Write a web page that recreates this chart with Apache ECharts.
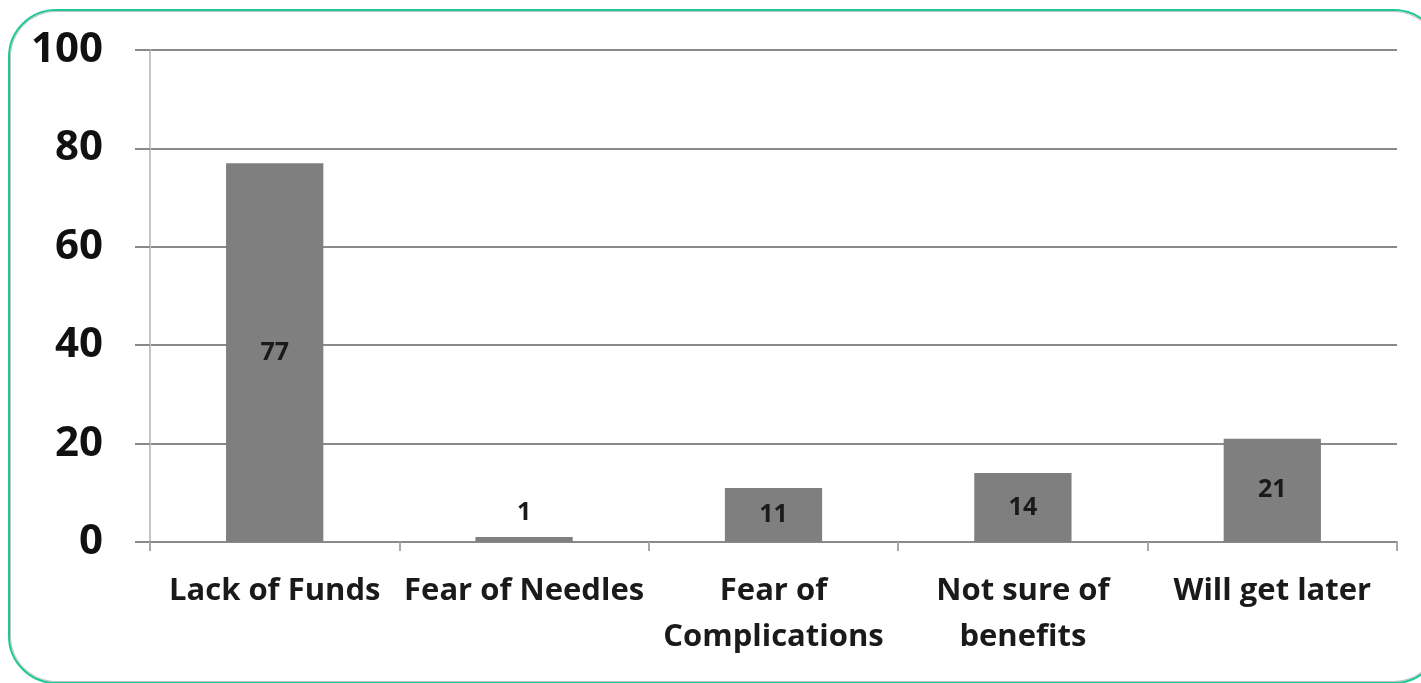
<!DOCTYPE html>
<html>
<head>
<meta charset="utf-8">
<style>
  html, body { margin: 0; padding: 0; background: #ffffff; overflow: hidden; }
  #chart { position: absolute; left: 0; top: 0; width: 1421px; height: 683px; }
  #frame {
    position: absolute; left: 8px; top: 9px; width: 1430px; height: 671px;
    border: 2px solid #1cc896; border-radius: 48px;
    box-shadow: inset 0 0 0 1px #c2c2c2;
    pointer-events: none;
  }
</style>
<script src="https://cdn.jsdelivr.net/npm/echarts@6/dist/echarts.min.js"></script>
</head>
<body>
<div id="chart"></div>
<div id="frame"></div>
<script>
// Reasons for not getting vaccinated (counts)
const categories = ['Lack of Funds', 'Fear of Needles', 'Fear of\nComplications', 'Not sure of\nbenefits', 'Will get later'];
const values = [77, 1, 11, 14, 21];
const yTicks = { min: 0, max: 100, interval: 20 };

const FONT = '"Open Sans", Lato, sans-serif';
const chart = echarts.init(document.getElementById('chart'));

chart.setOption({
  animation: false,
  backgroundColor: 'transparent',
  grid: { left: 150, right: 24, top: 50, bottom: 141 },
  xAxis: {
    type: 'category',
    data: categories,
    axisLine: { show: true, lineStyle: { color: '#8a8a8a', width: 2 } },
    axisTick: { show: true, length: 9, lineStyle: { color: '#a8a8a8', width: 2 } },
    axisLabel: {
      interval: 0, margin: 26, color: '#1a1a1a',
      fontFamily: FONT, fontWeight: 'bold', fontSize: 31, lineHeight: 46
    }
  },
  yAxis: {
    type: 'value',
    min: yTicks.min, max: yTicks.max, interval: yTicks.interval,
    axisLine: { show: true, lineStyle: { color: '#c4c4c4', width: 2 } },
    axisTick: { show: true, length: 15, lineStyle: { color: '#8a8a8a', width: 2 } },
    splitLine: { show: true, lineStyle: { color: '#8a8a8a', width: 2 } },
    axisLabel: {
      margin: 47, color: '#111111',
      fontFamily: FONT, fontWeight: 'bold', fontSize: 42
    }
  },
  series: [{
    type: 'bar',
    data: values.map(v => ({
      value: v,
      label: v < 5 ? { position: 'top', distance: 12 } : { position: 'inside' }
    })),
    barWidth: '39%',
    itemStyle: { color: '#7f7f7f' },
    label: {
      show: true, color: '#1a1a1a',
      fontFamily: FONT, fontWeight: 'bold', fontSize: 25
    }
  }]
});
</script>
</body>
</html>
